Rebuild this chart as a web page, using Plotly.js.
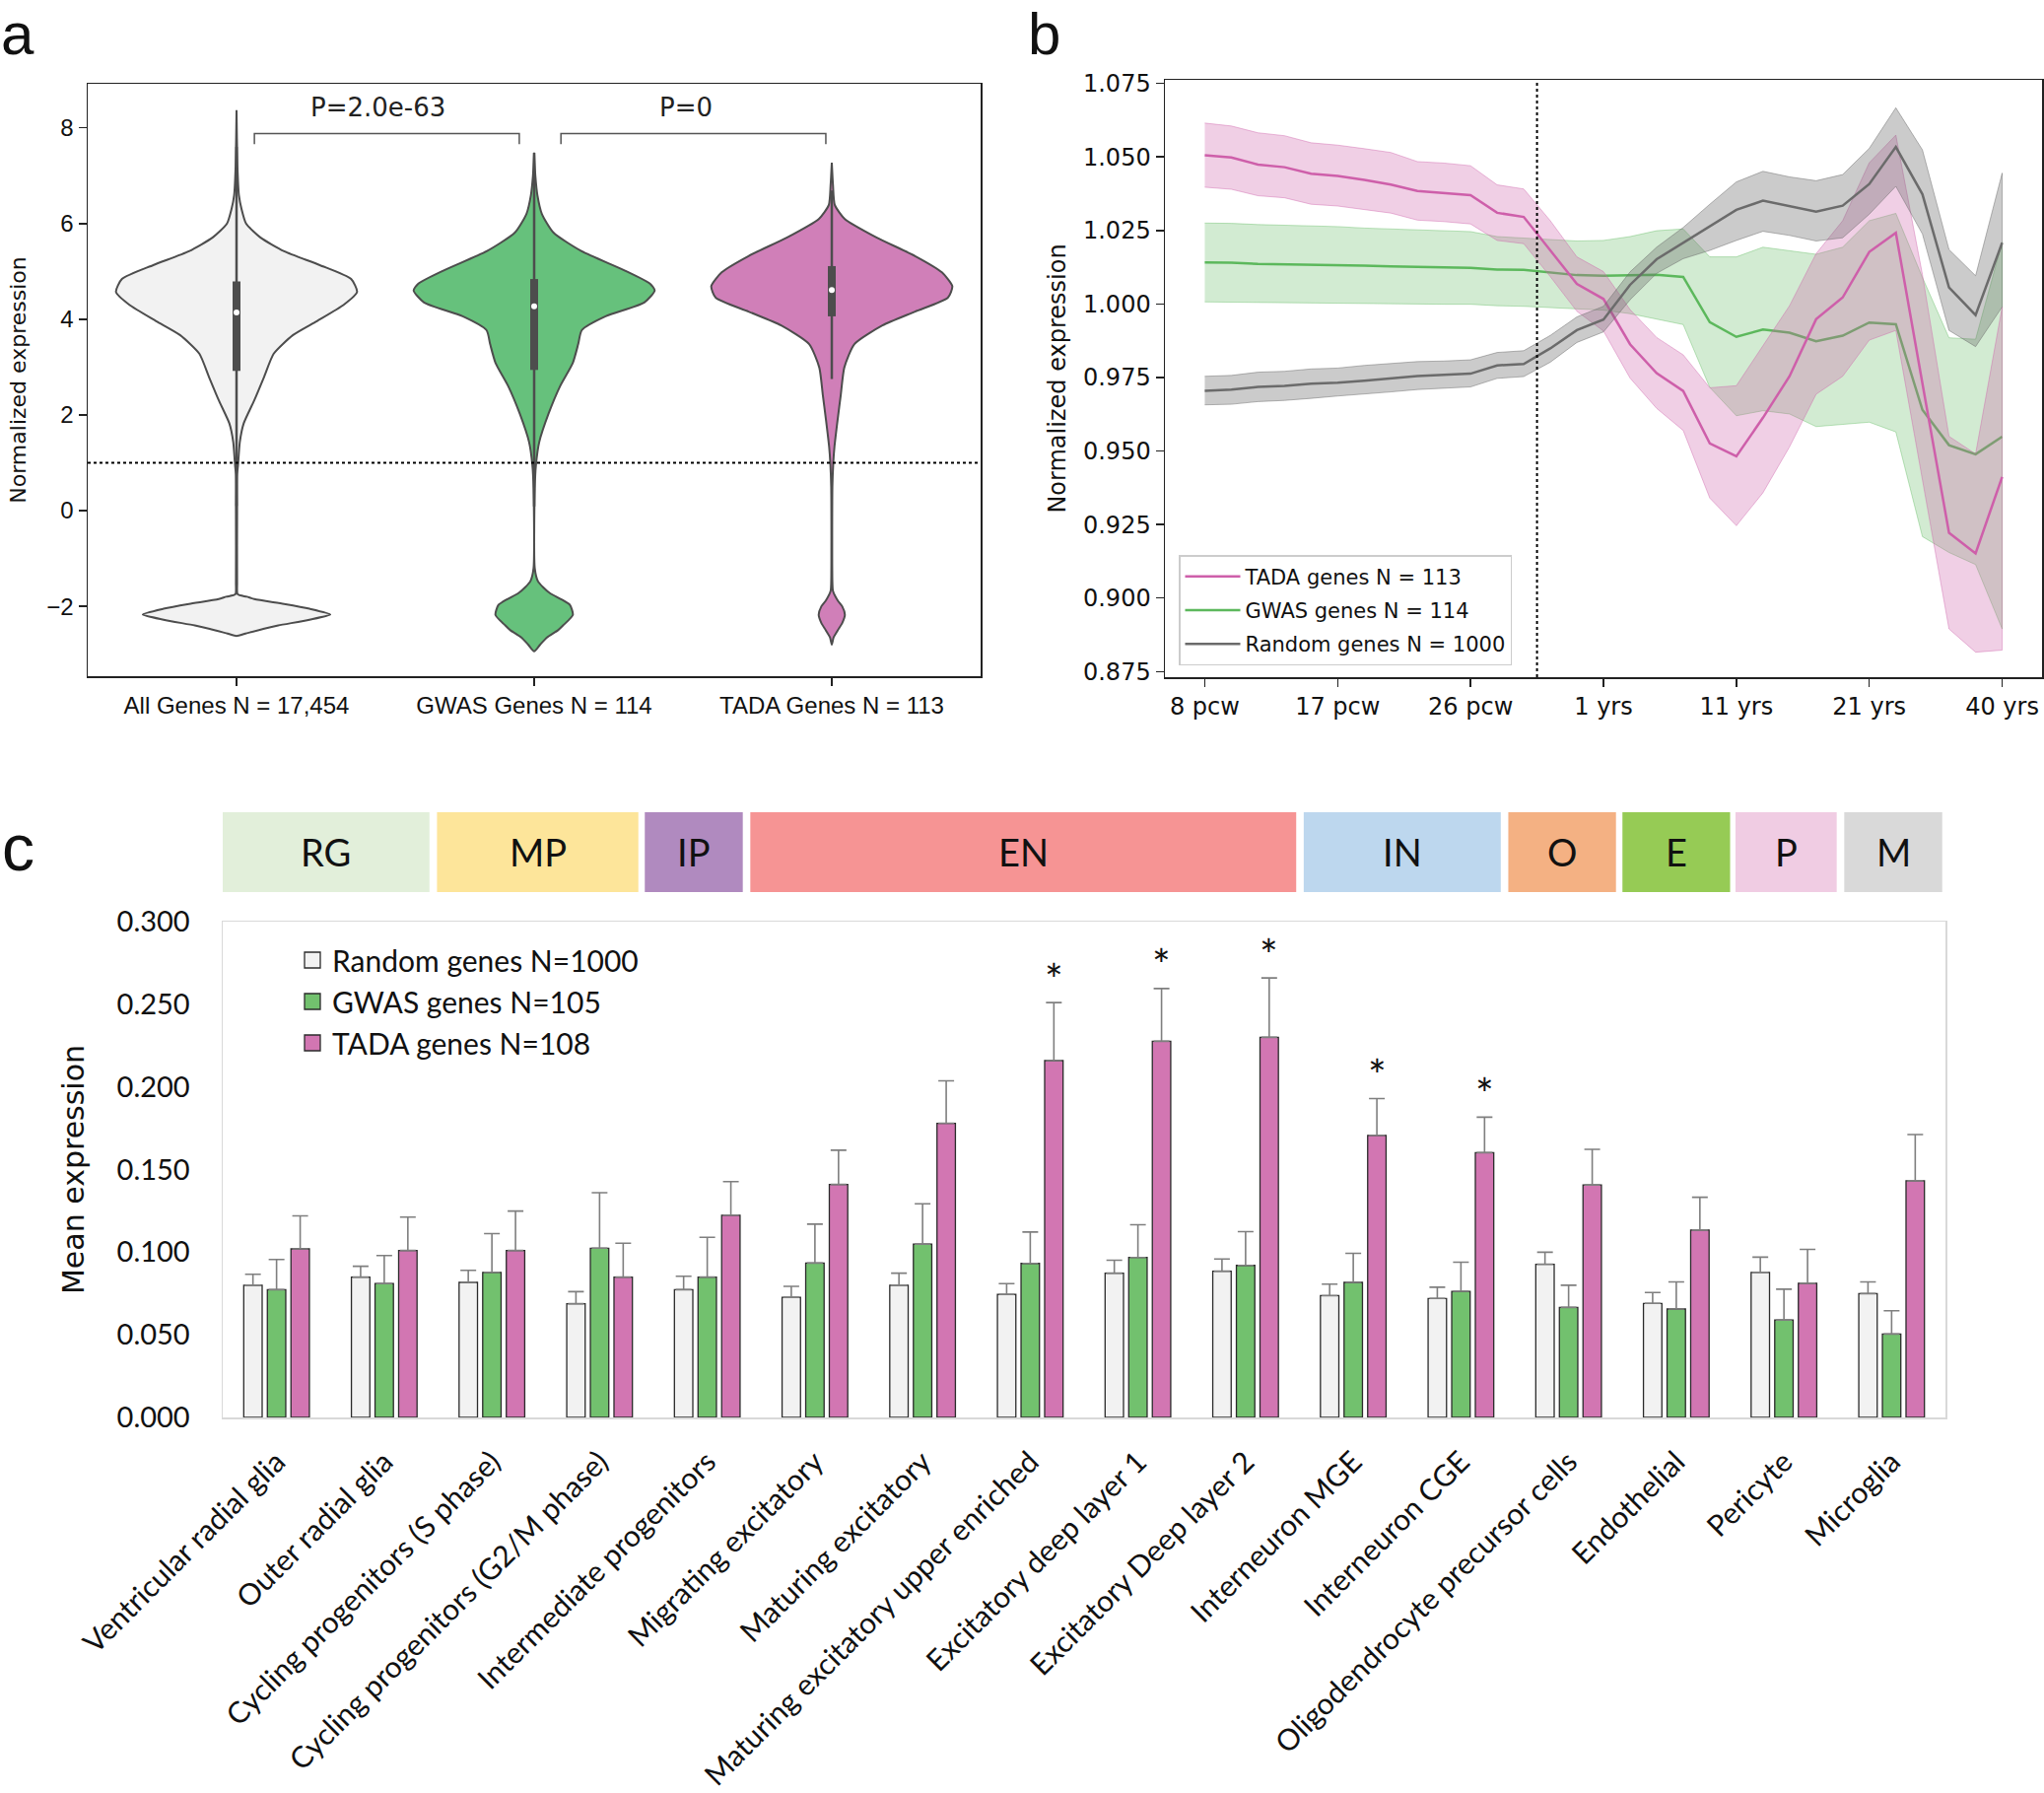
<!DOCTYPE html>
<html>
<head>
<meta charset="utf-8">
<script src="https://cdn.plot.ly/plotly-3.0.1.min.js"></script>
<style>html,body{margin:0;padding:0;background:#fff;}</style>
</head>
<body>
<div id="chart" style="width:2074px;height:1819px;"></div>
<script>
// ================= Panel a : violin profiles =================
const violinLabels = ['All Genes N = 17,454', 'GWAS Genes N = 114', 'TADA Genes N = 113'];
// expression levels (y) and half-widths of the density outline at those levels
const allGenesY = [-2.62, -2.57, -2.47, -2.40, -2.28, -2.17, -2.05, -1.95, -1.85, -1.80, -1.75, -1.5, 0.0, 0.75, 0.95, 1.43, 1.82, 2.31, 2.80, 3.28, 3.67, 3.96, 4.30, 4.57, 4.84, 5.13, 5.42, 5.71, 6.00, 6.30, 6.59, 7.20, 8.37];
const allGenesW = [0, 0.03, 0.09, 0.14, 0.245, 0.315, 0.245, 0.16, 0.06, 0.035, 0.004, 0.002, 0.002, 0.002, 0.005, 0.011, 0.024, 0.06, 0.093, 0.125, 0.19, 0.27, 0.36, 0.405, 0.385, 0.28, 0.16, 0.08, 0.032, 0.017, 0.008, 0.003, 0];
const gwasY = [-2.94, -2.80, -2.65, -2.50, -2.40, -2.18, -1.97, -1.85, -1.73, -1.60, -1.48, -1.2, 0.46, 0.95, 1.43, 2.02, 2.60, 3.09, 3.48, 3.77, 4.06, 4.35, 4.60, 4.74, 5.03, 5.42, 5.81, 6.20, 6.59, 7.00, 7.48];
const gwasW = [0, 0.02, 0.043, 0.08, 0.097, 0.13, 0.12, 0.09, 0.054, 0.03, 0.013, 0.002, 0.002, 0.006, 0.017, 0.048, 0.087, 0.13, 0.148, 0.16, 0.24, 0.37, 0.405, 0.39, 0.30, 0.16, 0.065, 0.026, 0.011, 0.004, 0];
const tadaY = [-2.80, -2.65, -2.50, -2.35, -2.18, -2.00, -1.88, -1.68, -1.5, 0.5, 1.0, 1.34, 1.92, 2.41, 2.99, 3.48, 3.87, 4.16, 4.45, 4.69, 4.98, 5.32, 5.71, 6.10, 6.39, 6.80, 7.27];
const tadaW = [0, 0.006, 0.02, 0.035, 0.044, 0.035, 0.02, 0.004, 0.002, 0.002, 0.005, 0.009, 0.02, 0.03, 0.042, 0.076, 0.17, 0.28, 0.39, 0.405, 0.37, 0.28, 0.15, 0.043, 0.01, 0.004, 0];
// inner box statistics
const boxQ1 = [2.92, 2.94, 4.06];
const boxMedian = [4.14, 4.27, 4.61];
const boxQ3 = [4.79, 4.84, 5.11];
const whiskerLow = [0.10, 0.09, 2.75];
const whiskerHigh = [7.60, 7.48, 6.69];
const pValueLabels = ['P=2.0e-63', 'P=0'];

// ================= Panel b : expression across development =================
const timePoints = [0,1,2,3,4,5,6,7,8,9,10,11,12,13,14,15,16,17,18,19,20,21,22,23,24,25,26,27,28,29,30];
const timeTickIndex = [0, 5, 10, 15, 20, 25, 30];
const timeTickLabels = ['8 pcw', '17 pcw', '26 pcw', '1 yrs', '11 yrs', '21 yrs', '40 yrs'];
const birthIndex = 12.5;
const tadaMean  = [1.0506,1.0498,1.0474,1.0465,1.0443,1.0435,1.0422,1.0406,1.0384,1.0378,1.0370,1.0310,1.0296,1.0182,1.0068,1.0017,0.9863,0.9765,0.9704,0.9526,0.9482,0.9613,0.9754,0.9948,1.0022,1.0177,1.0242,0.9730,0.9222,0.9152,0.9412];
const tadaUpper = [1.0615,1.0605,1.0582,1.0572,1.0548,1.0540,1.0528,1.0515,1.0484,1.0479,1.0470,1.0405,1.0391,1.0283,1.0160,1.0110,0.9981,0.9886,0.9827,0.9715,0.9722,0.9860,0.9994,1.0171,1.0283,1.0480,1.0574,1.0100,0.9550,0.9490,0.9990];
const tadaLower = [1.0397,1.0390,1.0368,1.0361,1.0339,1.0333,1.0322,1.0309,1.0285,1.0280,1.0272,1.0216,1.0205,1.0093,0.9975,0.9908,0.9748,0.9645,0.9570,0.9340,0.9246,0.9358,0.9514,0.9693,0.9754,0.9877,0.9910,0.9400,0.8895,0.8816,0.8823];
const gwasMean  = [1.0141,1.0140,1.0136,1.0135,1.0133,1.0132,1.0130,1.0128,1.0125,1.0124,1.0123,1.0117,1.0116,1.0106,1.0098,1.0096,1.0098,1.0099,1.0092,0.9938,0.9888,0.9913,0.9902,0.9873,0.9892,0.9937,0.9931,0.9640,0.9520,0.9489,0.9549];
const gwasUpper = [1.0275,1.0274,1.0270,1.0268,1.0265,1.0263,1.0258,1.0255,1.0250,1.0248,1.0246,1.0229,1.0224,1.0220,1.0214,1.0216,1.0229,1.0249,1.0255,1.0160,1.0160,1.0193,1.0182,1.0169,1.0193,1.0283,1.0308,1.0090,0.9885,0.9880,1.0210];
const gwasLower = [1.0007,1.0007,1.0006,1.0005,1.0004,1.0003,1.0002,1.0001,1.0000,0.9999,0.9999,0.9994,0.9992,0.9989,0.9983,0.9979,0.9967,0.9949,0.9930,0.9716,0.9620,0.9637,0.9626,0.9583,0.9590,0.9598,0.9565,0.9209,0.9155,0.9114,0.8895];
const randMean  = [0.9705,0.9709,0.9718,0.9721,0.9729,0.9732,0.9739,0.9746,0.9755,0.9759,0.9763,0.9791,0.9796,0.9849,0.9911,0.9947,1.0065,1.0152,1.0208,1.0263,1.0320,1.0351,1.0333,1.0314,1.0334,1.0408,1.0534,1.0373,1.0056,0.9962,1.0208];
const randUpper = [0.9754,0.9757,0.9768,0.9771,0.9779,0.9782,0.9791,0.9797,0.9804,0.9806,0.9810,0.9835,0.9841,0.9893,0.9956,0.9992,1.0109,1.0193,1.0260,1.0339,1.0415,1.0451,1.0432,1.0419,1.0440,1.0529,1.0667,1.0524,1.0185,1.0096,1.0445];
const randLower = [0.9657,0.9659,0.9668,0.9672,0.9679,0.9687,0.9695,0.9701,0.9709,0.9713,0.9718,0.9747,0.9753,0.9802,0.9869,0.9905,1.0014,1.0104,1.0154,1.0182,1.0216,1.0247,1.0233,1.0214,1.0225,1.0305,1.0400,1.0238,0.9910,0.9855,0.9990];

// ================= Panel c : mean expression per cell type =================
const cellTypes = ['Ventricular radial glia','Outer radial glia','Cycling progenitors (S phase)','Cycling progenitors (G2/M phase)','Intermediate progenitors','Migrating excitatory','Maturing excitatory','Maturing excitatory upper enriched','Excitatory deep layer 1','Excitatory Deep layer 2','Interneuron MGE','Interneuron CGE','Oligodendrocyte precursor cells','Endothelial','Pericyte','Microglia'];
const randomExpr = [0.0800,0.0849,0.0817,0.0688,0.0773,0.0727,0.0800,0.0744,0.0873,0.0885,0.0737,0.0720,0.0927,0.0690,0.0878,0.0749];
const randomErr  = [0.0066,0.0066,0.0073,0.0073,0.0081,0.0066,0.0073,0.0066,0.0078,0.0074,0.0070,0.0068,0.0073,0.0066,0.0092,0.0071];
const gwasExpr   = [0.0773,0.0810,0.0878,0.1024,0.0849,0.0934,0.1049,0.0932,0.0968,0.0920,0.0817,0.0763,0.0666,0.0656,0.0590,0.0505];
const gwasErr    = [0.0183,0.0170,0.0234,0.0336,0.0241,0.0236,0.0244,0.0190,0.0198,0.0204,0.0176,0.0176,0.0134,0.0164,0.0186,0.0141];
const tadaExpr   = [0.1020,0.1010,0.1010,0.0849,0.1224,0.1410,0.1780,0.2159,0.2276,0.2300,0.1707,0.1602,0.1407,0.1134,0.0812,0.1432];
const tadaErr    = [0.0200,0.0202,0.0239,0.0205,0.0203,0.0207,0.0257,0.0351,0.0319,0.0359,0.0222,0.0215,0.0215,0.0198,0.0205,0.0280];
const tadaSignificant = [0,0,0,0,0,0,0,1,1,1,1,1,0,0,0,0];
const headerLabels = ['RG','MP','IP','EN','IN','O','E','P','M'];

// ----------------- styling / layout helpers -----------------
const headerColors = ['#e2efda','#fde59a','#b08abf','#f69494','#bdd7ee','#f4b183','#96cb55','#f0cce3','#d9d9d9'];
const headerSpans = [[-0.51,1.42],[1.49,3.36],[3.42,4.33],[4.40,9.47],[9.54,11.37],[11.44,12.44],[12.50,13.50],[13.55,14.49],[14.56,15.47]];
const violinFill = ['#f2f2f2', '#66c17c', '#d07fb8'];
const outline = '#4d4d4d';
const FA = 'Liberation Sans, Arial, sans-serif';
const FD = 'DejaVu Sans, sans-serif';
const FL = 'Lato, sans-serif';

const traces = [];

// ---- violins ----
const profiles = [[allGenesY, allGenesW], [gwasY, gwasW], [tadaY, tadaW]];
profiles.forEach(([ys, ws], k) => {
  const px = [], py = [];
  for (let i = 0; i < ys.length; i++) { px.push(k + ws[i]); py.push(ys[i]); }
  for (let i = ys.length - 1; i >= 0; i--) { px.push(k - ws[i]); py.push(ys[i]); }
  traces.push({type:'scatter', mode:'lines', x:px, y:py, xaxis:'x', yaxis:'y', fill:'toself',
    fillcolor:violinFill[k], line:{color:outline, width:2, shape:'spline', smoothing:0.6},
    hoverinfo:'skip', showlegend:false});
});
for (let k = 0; k < 3; k++) {
  traces.push({type:'scatter', mode:'lines', x:[k,k], y:[whiskerLow[k], whiskerHigh[k]], xaxis:'x', yaxis:'y',
    line:{color:outline, width:2.5}, hoverinfo:'skip', showlegend:false});
  traces.push({type:'scatter', mode:'lines', x:[k,k], y:[boxQ1[k], boxQ3[k]], xaxis:'x', yaxis:'y',
    line:{color:outline, width:8}, hoverinfo:'skip', showlegend:false});
}
traces.push({type:'scatter', mode:'markers', x:[0,1,2], y:boxMedian, xaxis:'x', yaxis:'y',
  marker:{color:'#ffffff', size:6, line:{width:0}}, hoverinfo:'skip', showlegend:false});

// ---- development lines ----
const bandX = timePoints.concat(timePoints.slice().reverse());
function band(upper, lower, rgb, alpha) {
  return {type:'scatter', mode:'lines', x:bandX, y:upper.concat(lower.slice().reverse()), xaxis:'x2', yaxis:'y2',
    fill:'toself', fillcolor:`rgba(${rgb},${alpha})`, line:{color:`rgba(${rgb},${alpha+0.12})`, width:1},
    hoverinfo:'skip', showlegend:false};
}
function meanLine(y, rgb, name, rank) {
  return {type:'scatter', mode:'lines', x:timePoints, y:y, xaxis:'x2', yaxis:'y2', name:name,
    line:{color:`rgb(${rgb})`, width:2.5}, legend:'legend', legendgroup:name, legendrank:rank, hoverinfo:'skip'};
}
const cT = '206,95,170', cG = '92,184,92', cR = '107,107,107';
traces.push(band(gwasUpper, gwasLower, cG, 0.28));
traces.push(meanLine(gwasMean, cG, 'GWAS genes N = 114', 2));
traces.push(band(tadaUpper, tadaLower, cT, 0.3));
traces.push(meanLine(tadaMean, cT, 'TADA genes N = 113', 1));
traces.push(band(randUpper, randLower, cR, 0.35));
traces.push(meanLine(randMean, cR, 'Random genes N = 1000', 3));

// ---- bars ----
const zeros = cellTypes.map(() => 0);
const barNames = ['Random genes N=1000', 'GWAS genes N=105', 'TADA genes N=108'];
const barColors = ['#f2f2f2', '#72c16e', '#d276b2'];
function barTrace(y, err, k) {
  return {type:'bar', x:cellTypes, y:y, name:barNames[k], xaxis:'x3', yaxis:'y3', showlegend:false,
    marker:{color:barColors[k], line:{color:'#2b2b2b', width:1.3}},
    error_y:{type:'data', symmetric:false, array:err, arrayminus:zeros, color:'#7f7f7f', thickness:1.6, width:8},
    hoverinfo:'skip'};
}
traces.push(barTrace(randomExpr, randomErr, 0));
traces.push(barTrace(gwasExpr, gwasErr, 1));
traces.push(barTrace(tadaExpr, tadaErr, 2));
// legend entries for the bar series (square swatches)
barNames.forEach((nm, k) => {
  traces.push({type:'scatter', mode:'markers', x:[null], y:[null], xaxis:'x3', yaxis:'y3', name:nm, legend:'legend2',
    marker:{symbol:'square', size:16, color:barColors[k], line:{color:'#2b2b2b', width:1.3}}, hoverinfo:'skip'});
});

// ----------------- shapes & annotations -----------------
const shapes = [
  {type:'line', xref:'x domain', yref:'y', x0:0, x1:1, y0:1, y1:1, line:{color:'#000', width:2.2, dash:'dot'}},
  {type:'path', xref:'x', yref:'y', path:'M0.06,7.66 L0.06,7.88 L0.95,7.88 L0.95,7.66', line:{color:'#555', width:1.5}},
  {type:'path', xref:'x', yref:'y', path:'M1.09,7.66 L1.09,7.88 L1.98,7.88 L1.98,7.66', line:{color:'#555', width:1.5}},
  {type:'line', xref:'x2', yref:'y2 domain', x0:birthIndex, x1:birthIndex, y0:0, y1:1, line:{color:'#000', width:2, dash:'dot'}}
];
headerSpans.forEach((s, i) => {
  shapes.push({type:'rect', xref:'x3', yref:'paper', x0:s[0], x1:s[1], y0:1-905/1819, y1:1-824/1819,
    fillcolor:headerColors[i], line:{width:0}, layer:'below'});
});

const annotations = [
  {text:'a', xref:'paper', yref:'paper', x:0.0, y:1, xanchor:'left', yanchor:'top', borderpad:0, showarrow:false, font:{family:FA, size:60, color:'#111'}},
  {text:'b', xref:'paper', yref:'paper', x:1042/2074, y:1, xanchor:'left', yanchor:'top', borderpad:0, showarrow:false, font:{family:FA, size:60, color:'#111'}},
  {text:'c', xref:'paper', yref:'paper', x:0.0, y:1-860/1819, xanchor:'left', yanchor:'middle', showarrow:false, font:{family:FA, size:66, color:'#111'}},
  {text:pValueLabels[0], xref:'x', yref:'y', x:0.474, y:8.43, showarrow:false, font:{family:FD, size:26, color:'#222'}},
  {text:pValueLabels[1], xref:'x', yref:'y', x:1.51, y:8.43, showarrow:false, font:{family:FD, size:26, color:'#222'}}
];
headerSpans.forEach((s, i) => {
  annotations.push({text:headerLabels[i], xref:'x3', yref:'paper', x:(s[0]+s[1])/2, y:1-864.5/1819,
    showarrow:false, font:{family:FL, size:38, color:'#111'}});
});
tadaSignificant.forEach((sig, i) => {
  if (sig) annotations.push({text:'*', xref:'x3', yref:'y3', x:i + 0.219, y:tadaExpr[i] + tadaErr[i] - 0.002,
    xanchor:'center', yanchor:'bottom', showarrow:false, font:{family:FL, size:44, color:'#111'}});
});

const axA = {showline:true, mirror:true, linecolor:'#222', linewidth:1.5, ticks:'outside', ticklen:8, tickwidth:1.5,
  tickcolor:'#222', zeroline:false, showgrid:false};

const layout = {
  width:2074, height:1819, margin:{l:0, r:0, t:0, b:0}, paper_bgcolor:'#fff', plot_bgcolor:'#fff',
  font:{family:FA, color:'#111'},
  barmode:'group', bargap:0.342, bargroupgap:0.22,
  xaxis: Object.assign({}, axA, {domain:[89/2074, 995/2074], anchor:'y', range:[-0.5, 2.5], tickvals:[0,1,2], ticktext:violinLabels,
    tickfont:{family:FA, size:24, color:'#111'}}),
  yaxis: Object.assign({}, axA, {domain:[1-686/1819, 1-85/1819], anchor:'x', range:[-3.46, 8.92], tickvals:[-2,0,2,4,6,8],
    tickfont:{family:FA, size:24, color:'#111'},
    title:{text:'Normalized expression', font:{family:FD, size:22, color:'#111'}, standoff:14}}),
  xaxis2: Object.assign({}, axA, {domain:[1182/2074, 2072/2074], anchor:'y2', range:[-1.5, 31.5], tickvals:timeTickIndex, ticktext:timeTickLabels,
    tickfont:{family:FD, size:24, color:'#111'}}),
  yaxis2: Object.assign({}, axA, {domain:[1-687/1819, 1-81/1819], anchor:'x2', range:[0.8731, 1.0762],
    tickvals:[0.875,0.9,0.925,0.95,0.975,1.0,1.025,1.05,1.075], tickformat:'.3f',
    tickfont:{family:FD, size:24, color:'#111'},
    title:{text:'Normalized expression', font:{family:FD, size:24, color:'#111'}, standoff:10}}),
  xaxis3: {domain:[226/2074, 1974/2074], anchor:'y3', type:'category', range:[-0.5, 15.5], showline:true, mirror:true,
    linecolor:'#d9d9d9', linewidth:1.5, ticks:'outside', ticklen:14, tickcolor:'rgba(0,0,0,0)', tickangle:-45,
    tickfont:{family:FL, size:30, color:'#111'}, showgrid:false, zeroline:false},
  yaxis3: {domain:[1-1438/1819, 1-935/1819], anchor:'x3', range:[0, 0.3], tickvals:[0,0.05,0.1,0.15,0.2,0.25,0.3], tickformat:'.3f',
    showline:true, mirror:true, linecolor:'#d9d9d9', linewidth:1.5, ticks:'outside', ticklen:26, tickcolor:'rgba(0,0,0,0)',
    tickfont:{family:FL, size:29, color:'#111'}, showgrid:false, zeroline:false,
    title:{text:'Mean expression', font:{family:FD, size:30, color:'#111'}, standoff:24}},
  legend: {x:1196/2074, y:1-563/1819, xanchor:'left', yanchor:'top', bgcolor:'rgba(255,255,255,0.85)', bordercolor:'#cccccc',
    borderwidth:1.5, font:{family:FD, size:21, color:'#111'}, tracegroupgap:4, itemwidth:56, traceorder:'grouped'},
  legend2: {x:297/2074, y:1-948/1819, xanchor:'left', yanchor:'top', bgcolor:'rgba(0,0,0,0)', borderwidth:0,
    font:{family:FL, size:30, color:'#111'}, traceorder:'normal'},
  shapes:shapes, annotations:annotations, showlegend:true
};

Plotly.newPlot('chart', traces, layout, {staticPlot:true, displayModeBar:false});
</script>
</body>
</html>
